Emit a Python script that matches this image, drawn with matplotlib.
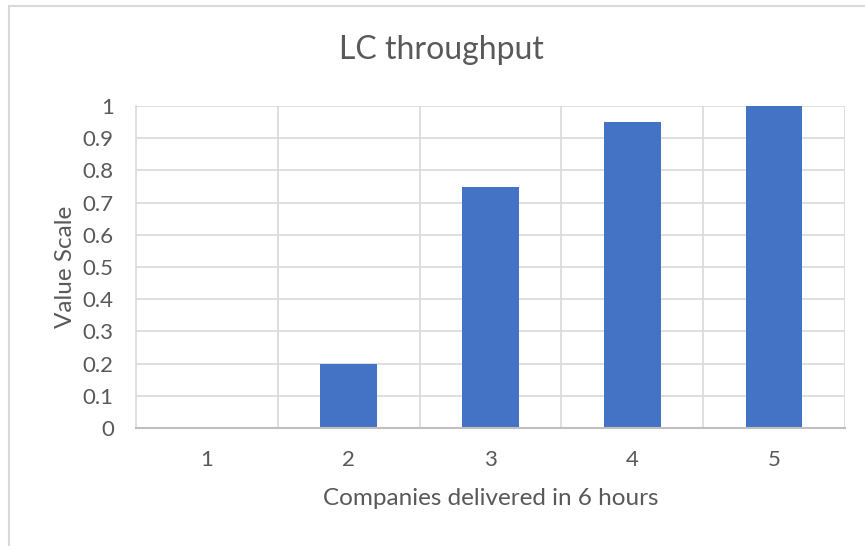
import matplotlib.pyplot as plt
from matplotlib.patches import Rectangle

# Chart data
companies = ['1', '2', '3', '4', '5']
throughput = [0, 0.2, 0.75, 0.95, 1.0]
y_ticks = [0, 0.1, 0.2, 0.3, 0.4, 0.5, 0.6, 0.7, 0.8, 0.9, 1]
y_tick_labels = ['0', '0.1', '0.2', '0.3', '0.4', '0.5', '0.6', '0.7', '0.8', '0.9', '1']

plt.rcParams['font.family'] = ['Lato', 'DejaVu Sans']
text_color = '#595959'
grid_color = '#d9d9d9'

fig = plt.figure(figsize=(8.65, 5.46), dpi=100)
ax = fig.add_axes([136 / 865, 1 - 428 / 546, (845 - 136) / 865, (428 - 106) / 546])

# Chart border (cropped on right and bottom)
fig.patches.append(Rectangle((9 / 865, -0.1), 1.2, 1.1 - 6 / 546, transform=fig.transFigure,
                             fill=False, edgecolor='#d9d9d9', linewidth=1.5))

x = list(range(len(companies)))
ax.bar(x, throughput, width=0.4, color='#4472C4', zorder=3)

ax.set_xlim(-0.5, len(companies) - 0.5)
ax.set_ylim(0, 1)
ax.set_yticks(y_ticks)
ax.set_yticklabels(y_tick_labels)
ax.set_xticks(x)
ax.set_xticklabels(companies)

# Gridlines: horizontal at ticks, vertical at category boundaries
for y in y_ticks[1:]:
    ax.axhline(y, color=grid_color, linewidth=1.2, zorder=1)
for b in range(1, len(companies) + 1):
    ax.axvline(b - 0.5, color=grid_color, linewidth=1.2, zorder=1)

for side in ['top', 'right']:
    ax.spines[side].set_visible(False)
ax.spines['left'].set_color(grid_color)
ax.spines['left'].set_linewidth(1.2)
ax.spines['bottom'].set_color('#bfbfbf')
ax.spines['bottom'].set_linewidth(1.5)
ax.spines['bottom'].set_zorder(4)

ax.tick_params(axis='both', length=0, labelsize=16, colors=text_color)
ax.tick_params(axis='y', pad=16)
ax.tick_params(axis='x', pad=16)

fig.text(441 / 865, 1 - 50 / 546, 'LC throughput', fontsize=23, color=text_color,
         ha='center', va='center')
ax.set_xlabel('Companies delivered in 6 hours', fontsize=17.5, color=text_color, labelpad=13)
ax.set_ylabel('Value Scale', fontsize=17.5, color=text_color, labelpad=5)

plt.savefig('out.png', dpi=100)
